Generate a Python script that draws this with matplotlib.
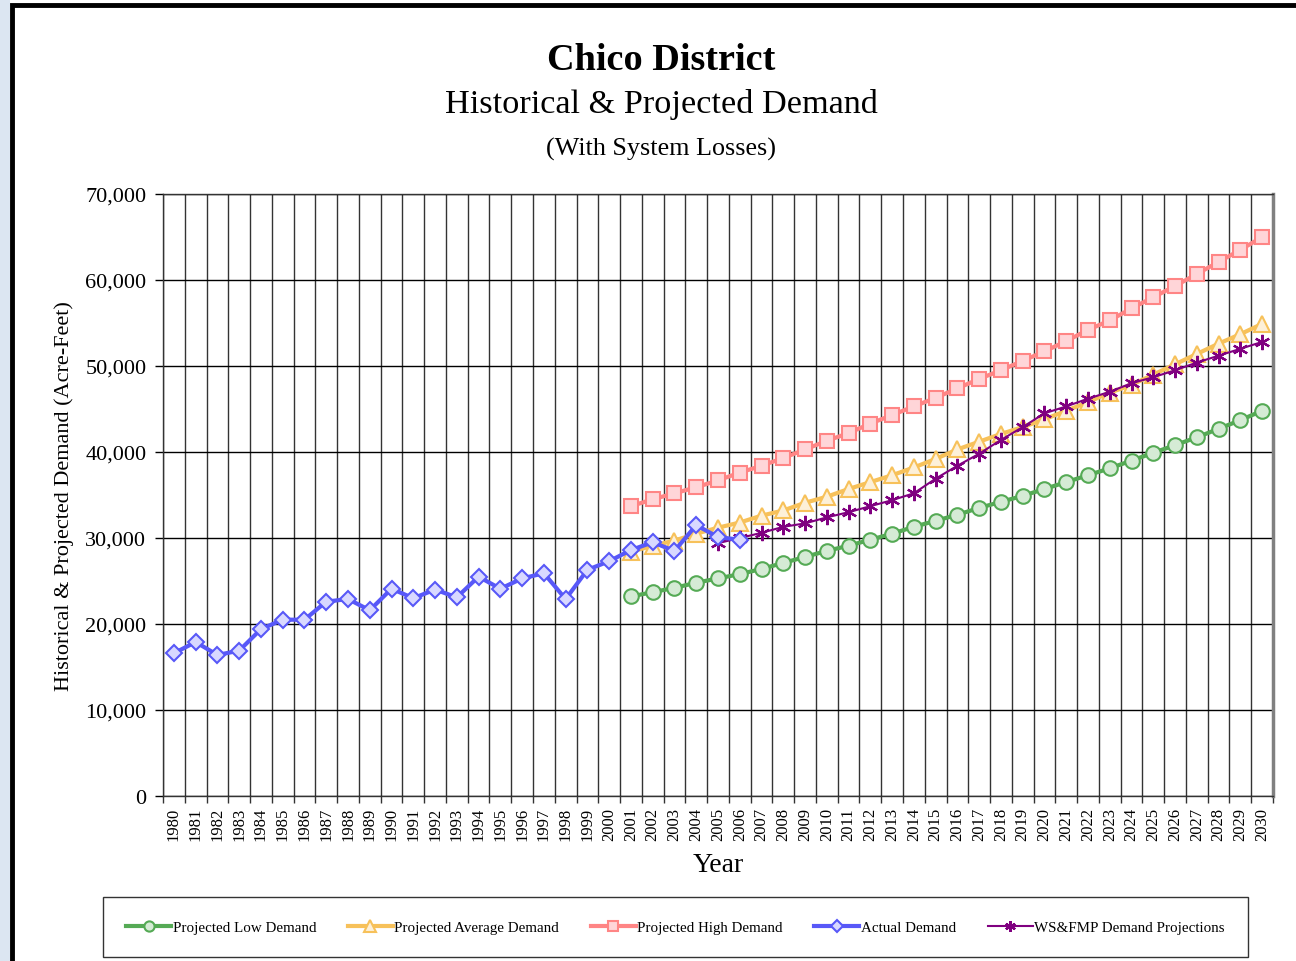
import matplotlib
matplotlib.use("Agg")
import matplotlib.pyplot as plt
from matplotlib.patches import Rectangle
from matplotlib.ticker import FuncFormatter, FixedLocator
import numpy as np

years = list(range(1980, 2031))
proj_years = list(range(2001, 2031))
ws_years = list(range(2005, 2031))
actual_years = list(range(1980, 2007))

actual = [16.6, 17.9, 16.4, 16.9, 19.4, 20.5, 20.5, 22.6, 22.9, 21.6,
          24.1, 23.0, 24.0, 23.1, 25.5, 24.1, 25.3, 25.9, 22.9, 26.3,
          27.3, 28.6, 29.5, 28.5, 31.5, 30.1, 29.8]
low = [23.2, 23.7, 24.2, 24.8, 25.3, 25.8, 26.4, 27.1, 27.8, 28.5,
       29.1, 29.8, 30.5, 31.3, 32.0, 32.7, 33.5, 34.2, 34.9, 35.7,
       36.5, 37.3, 38.1, 39.0, 39.9, 40.8, 41.7, 42.7, 43.7, 44.8]
average = [28.4, 29.1, 29.7, 30.5, 31.2, 31.8, 32.6, 33.2, 34.1, 34.8,
           35.7, 36.5, 37.3, 38.2, 39.2, 40.3, 41.2, 42.1, 42.9, 43.8,
           44.8, 45.8, 46.9, 47.8, 49.0, 50.2, 51.4, 52.6, 53.7, 54.9]
high = [33.7, 34.5, 35.2, 35.9, 36.7, 37.6, 38.4, 39.3, 40.3, 41.3,
        42.2, 43.3, 44.3, 45.3, 46.3, 47.4, 48.5, 49.5, 50.6, 51.7,
        52.9, 54.2, 55.3, 56.7, 58.0, 59.3, 60.7, 62.1, 63.5, 65.0]
wsfmp = [29.4, 30.0, 30.6, 31.3, 31.7, 32.4, 33.0, 33.7, 34.4, 35.2,
         36.9, 38.4, 39.8, 41.4, 42.9, 44.5, 45.3, 46.2, 47.0, 48.0,
         48.7, 49.5, 50.4, 51.2, 52.0, 52.8]

series_labels = ["Projected Low Demand", "Projected Average Demand",
                 "Projected High Demand", "Actual Demand",
                 "WS&FMP Demand Projections"]

plt.rcParams['font.family'] = ['Liberation Serif', 'DejaVu Serif']

W, H = 1296, 962
fig = plt.figure(figsize=(W / 100, H / 100), dpi=100)
fig.patch.set_facecolor('white')

# left light-blue strip and black frame
fig.patches.append(Rectangle((0, 0), 10 / W, 1, transform=fig.transFigure,
                             facecolor='#dce6f2', edgecolor='none', zorder=0))
fig.patches.append(Rectangle((12 / W, -0.1), 1.2, (H - 6) / H + 0.1,
                             transform=fig.transFigure, facecolor='none',
                             edgecolor='black', linewidth=3.5, zorder=1))

ax = fig.add_axes([163 / W, 1 - 797 / H, (1273 - 163) / W, (797 - 195) / H])

def idx(yrs):
    return [y - 1980 for y in yrs]

def k(v):
    return [x * 1000 for x in v]

lw = 3.0
ax.plot(idx(proj_years), k(low), color='#55aa55', lw=lw, marker='o', ms=10.5,
        mfc='#d5ebd5', mec='#55aa55', mew=1.5, label=series_labels[0], zorder=3)
ax.plot(idx(proj_years), k(average), color='#f7c15a', lw=lw, marker='^', ms=11.5,
        mfc='#fdf0d8', mec='#f7c15a', mew=1.5, label=series_labels[1], zorder=3)
ax.plot(idx(proj_years), k(high), color='#ff8585', lw=lw, marker='s', ms=10,
        mfc='#ffd5d8', mec='#ff8585', mew=1.5, label=series_labels[2], zorder=3)
ax.plot(idx(actual_years), k(actual), color='#5858f8', lw=lw, marker='D', ms=8.5,
        mfc='#d8d8ff', mec='#5858f8', mew=1.5, label=series_labels[3], zorder=5)
ax.plot(idx(ws_years), k(wsfmp), color='#800080', lw=1.5, marker=(6, 2, 0), ms=11,
        mec='#800080', mew=1.6, label=series_labels[4], zorder=4)

ax.set_xlim(-0.5, 50.5)
ax.set_ylim(0, 70000)
ax.set_yticks(np.arange(0, 70001, 10000))
ax.yaxis.set_major_formatter(FuncFormatter(lambda v, p: f"{int(v):,}"))
ax.set_xticks(range(len(years)))
ax.set_xticklabels([str(y) for y in years], rotation=90, fontsize=12)
ax.xaxis.set_minor_locator(FixedLocator(np.arange(-0.5, 51, 1)))
ax.tick_params(axis='x', which='major', length=0, pad=8)
ax.tick_params(axis='x', which='minor', length=5, width=1, color='#333333')
ax.tick_params(axis='y', which='major', length=6, width=1, labelsize=16, pad=6)
ax.grid(axis='y', which='major', color='black', lw=1)
ax.grid(axis='x', which='minor', color='#333333', lw=1)
ax.set_axisbelow(True)
for s in ax.spines.values():
    s.set_color('#333333')
    s.set_linewidth(1)
ax.spines['right'].set_color('#808080')
ax.spines['right'].set_linewidth(2.5)

ax.set_xlabel("Year", fontsize=20, labelpad=8)
ax.set_ylabel("Historical & Projected Demand (Acre-Feet)", fontsize=16, labelpad=8)

fig.text(661 / W, 1 - 61 / H, "Chico District", ha='center', va='center',
         fontsize=27.5, fontweight='bold')
fig.text(661 / W, 1 - 104 / H, "Historical & Projected Demand", ha='center',
         va='center', fontsize=24.7)
fig.text(661 / W, 1 - 149 / H, "(With System Losses)", ha='center',
         va='center', fontsize=18.8)

leg = fig.legend(loc='center', ncol=5, mode='expand',
                 bbox_to_anchor=(103 / W, 1 - 958 / H, 1145 / W, 60 / H),
                 bbox_transform=fig.transFigure, fontsize=10.8, frameon=True,
                 fancybox=False, handlelength=3.0, handletextpad=0.1,
                 borderpad=1.55, borderaxespad=0, markerscale=0.7,
                 columnspacing=1.0)
leg.get_frame().set_edgecolor('black')
leg.get_frame().set_linewidth(1)

fig.savefig("out.png", dpi=100, facecolor='white')
